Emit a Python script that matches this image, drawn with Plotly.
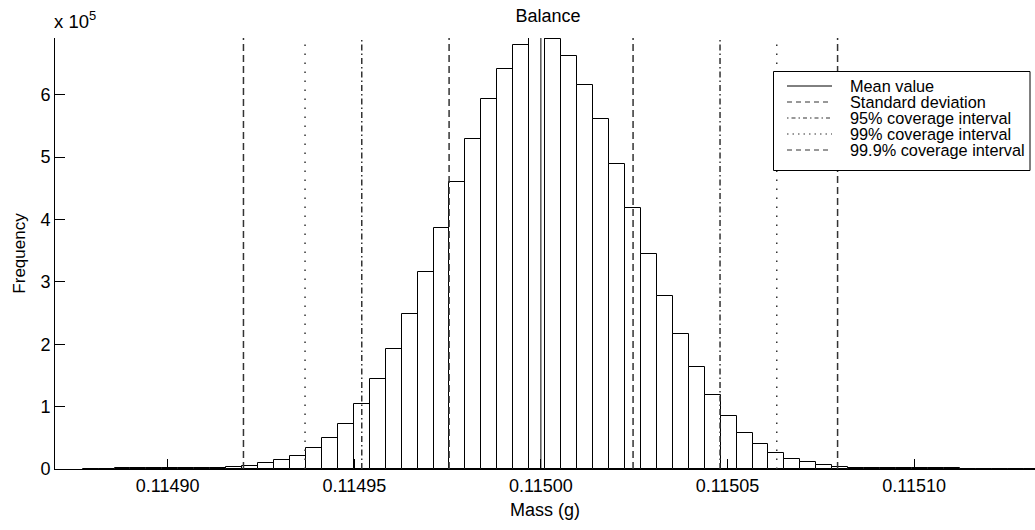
import numpy as np
import plotly.graph_objects as go

# Monte Carlo result for the balance reading: histogram counts per bin
BIN_START = 0.1148772      # left edge of the first bin (g)
BIN_WIDTH = 4.274e-6       # bin width (g)
COUNTS = [
    800, 800, 900, 900, 1000, 1000, 1100, 1200, 1300, 3700,
    4500, 9100, 14000, 20900, 33200, 50500, 72500, 104800, 143900, 192500,
    249000, 316000, 386700, 460000, 529400, 593000, 641700, 679000, 691000, 688800,
    662000, 615000, 561000, 489300, 418000, 344900, 278000, 217000, 163000, 118700,
    84800, 57300, 40600, 26200, 15500, 10700, 5900, 3700, 1300, 1200,
    1100, 1000, 1000, 900, 900, 800, 800, 700, 0, 600,
]

# Summary statistics (g)
MEAN = 0.1150000
STD_BOUNDS = [0.1149754, 0.1150247]
CI95 = [0.1149520, 0.1150480]
CI99 = [0.1149368, 0.1150632]
CI999 = [0.1149203, 0.1150795]

X_TICKS = [0.11490, 0.11495, 0.11500, 0.11505, 0.11510]
X_TICK_LABELS = ["0.11490", "0.11495", "0.11500", "0.11505", "0.11510"]
Y_TICKS = [0, 1e5, 2e5, 3e5, 4e5, 5e5, 6e5]
Y_TICK_LABELS = ["0", "1", "2", "3", "4", "5", "6"]
X_RANGE = [0.1148698, 0.1151324]

FONT = "Liberation Sans, Arial, Helvetica, sans-serif"
W, H = 1035, 530
ML, MR, MT, MB = 55, 0, 38, 61
PW, PH = W - ML - MR, H - MT - MB

counts = np.array(COUNTS, dtype=float)
centers = BIN_START + BIN_WIDTH * (np.arange(len(counts)) + 0.5)
y_top = counts.max()

fig = go.Figure()
fig.add_trace(go.Bar(
    x=centers, y=counts, width=BIN_WIDTH,
    marker=dict(color="white", line=dict(color="black", width=1)),
    showlegend=False, hoverinfo="x+y",
))

DASHED = "7px,4px"
DASHDOT = "6px,3px,1.5px,3px"
DOTTED = "1.5px,7.5px"
LINE_COLOR = "#333333"


def vline(x, dash, color=LINE_COLOR, width=1.5, name=""):
    fig.add_trace(go.Scatter(
        x=[x, x], y=[0, y_top], mode="lines", name=name,
        line=dict(color=color, width=width, dash=dash),
        showlegend=False, hoverinfo="x+name",
    ))


vline(MEAN, "solid", color="black", width=1, name="Mean value")
for v in STD_BOUNDS:
    vline(v, DASHED, name="Standard deviation")
for v in CI95:
    vline(v, DASHDOT, name="95% coverage interval")
for v in CI99:
    vline(v, DOTTED, name="99% coverage interval")
for v in CI999:
    vline(v, DASHED, name="99.9% coverage interval")


def px_x(p):
    return (p - ML) / PW


def px_y(p):
    return (H - MB - p) / PH


# Legend box drawn as shapes and text
shapes = [dict(type="rect", xref="paper", yref="paper",
               x0=px_x(773.5), x1=px_x(1030), y0=px_y(170.5), y1=px_y(71.5),
               line=dict(color="black", width=1), fillcolor="white", layer="above")]
annotations = []
legend_items = [
    ("Mean value", "solid", "black", 1),
    ("Standard deviation", "5px,4px", LINE_COLOR, 1.2),
    ("95% coverage interval", "1.5px,3px,4px,3px", LINE_COLOR, 1.2),
    ("99% coverage interval", "1.5px,4px", LINE_COLOR, 1.2),
    ("99.9% coverage interval", "5px,4px", LINE_COLOR, 1.2),
]
for i, (label, dash, color, lw) in enumerate(legend_items):
    yy = 86 + 16 * i
    shapes.append(dict(type="line", xref="paper", yref="paper",
                       x0=px_x(787), x1=px_x(832), y0=px_y(yy), y1=px_y(yy),
                       line=dict(color=color, width=lw, dash=dash), layer="above"))
    annotations.append(dict(text=label, xref="paper", yref="paper",
                            x=px_x(848), y=px_y(yy), xanchor="left", yanchor="middle",
                            showarrow=False, font=dict(family=FONT, size=16.3, color="black")))

# Exponent label for the y axis
annotations.append(dict(text="x 10<sup>5</sup>", xref="paper", yref="paper",
                        x=px_x(52), y=px_y(20), xanchor="left", yanchor="middle",
                        showarrow=False, font=dict(family=FONT, size=18.5, color="black")))

fig.update_layout(
    width=W, height=H,
    margin=dict(l=ML, r=MR, t=MT, b=MB, pad=0),
    paper_bgcolor="white", plot_bgcolor="white",
    bargap=0,
    title=dict(text="Balance", x=548 / W, xref="container", xanchor="center",
               y=1 - 16 / H, yref="container", yanchor="middle",
               font=dict(family=FONT, size=18, color="black")),
    font=dict(family=FONT, size=18, color="black"),
    shapes=shapes, annotations=annotations,
    xaxis=dict(range=X_RANGE, tickvals=X_TICKS, ticktext=X_TICK_LABELS,
               showline=True, linecolor="black", linewidth=1,
               ticks="inside", ticklen=10, tickcolor="black", tickwidth=1,
               showgrid=False, zeroline=False,
               tickfont=dict(family=FONT, size=18, color="black"),
               title=dict(text="Mass (g)", font=dict(family=FONT, size=18), standoff=8)),
    yaxis=dict(range=[0, y_top], tickvals=Y_TICKS, ticktext=Y_TICK_LABELS,
               showline=True, linecolor="black", linewidth=1,
               ticks="inside", ticklen=10, tickcolor="black", tickwidth=1,
               showgrid=False, zeroline=False,
               tickfont=dict(family=FONT, size=18, color="black"),
               title=dict(text="Frequency", font=dict(family=FONT, size=17), standoff=10)),
)

fig.write_html("out.html")
